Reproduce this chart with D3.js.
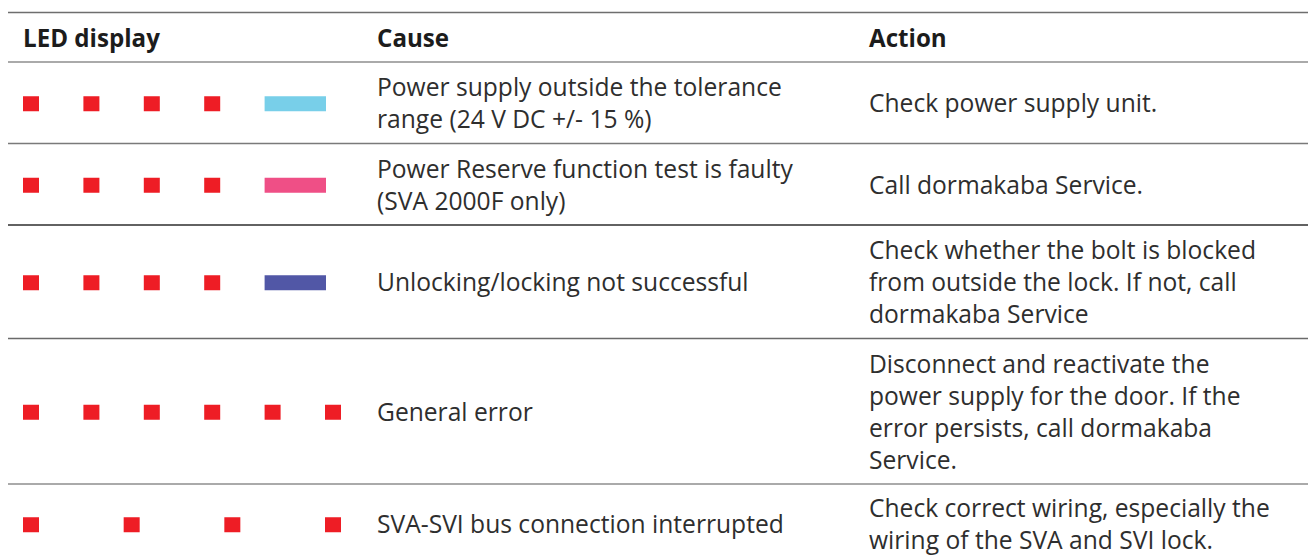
<!DOCTYPE html>
<html><head><meta charset="utf-8">
<script src="https://cdn.jsdelivr.net/npm/d3@7"></script>
<style>html,body{margin:0;padding:0;background:#fff;overflow:hidden}</style>
</head><body>
<svg id="chart" width="1308" height="558"></svg>
<script>
// ---- data ----
const headers = ["LED display", "Cause", "Action"];
// LED slots (0..5) lit red for each row
const ledSlots = [
  [0, 1, 2, 3],
  [0, 1, 2, 3],
  [0, 1, 2, 3],
  [0, 1, 2, 3, 4, 5],
  [0, 5/3, 10/3, 5]
];
// optional coloured bar spanning slots 4-5
const ledBars = ["#78cfe9", "#ef4f86", "#5157a6", null, null];
const causes = [
  ["Power supply outside the tolerance", "range (24 V DC +/- 15 %)"],
  ["Power Reserve function test is faulty", "(SVA 2000F only)"],
  ["Unlocking/locking not successful"],
  ["General error"],
  ["SVA-SVI bus connection interrupted"]
];
const actions = [
  ["Check power supply unit."],
  ["Call dormakaba Service."],
  ["Check whether the bolt is blocked", "from outside the lock. If not, call", "dormakaba Service"],
  ["Disconnect and reactivate the", "power supply for the door. If the", "error persists, call dormakaba", "Service."],
  ["Check correct wiring, especially the", "wiring of the SVA and SVI lock."]
];
const ruleColors = ["#6e6e6e", "#8e8e8e", "#7a7a7a", "#2e2e2e", "#6a6a6a", "#8e8e8e"];

// ---- layout ----
const svg = d3.select("#chart");
const FONT = "'Open Sans', 'Noto Sans', sans-serif";
const lineH = 32, rowPad = 17.5;
const tableTop = 12.5, headerBottom = 62;
const colX = d3.scaleOrdinal().domain(headers).range([23, 377, 869]);
const ledX = d3.scaleLinear().domain([0, 5]).range([23, 325]);
const sqW = 16, sqH = 15;

// fit font size to reference width
const probe = svg.append("text").attr("font-family", FONT).attr("font-size", 100)
  .text("Power supply outside the tolerance");
const fs = 100 * 405 / probe.node().getComputedTextLength();
probe.attr("font-weight", 700).text("LED display");
const hfs = 100 * 137 / probe.node().getComputedTextLength();
probe.remove();

// row boundaries
const rows = causes.map((c, i) => ({i, n: Math.max(c.length, actions[i].length)}));
let y = headerBottom;
rows.forEach(r => { r.top = y; r.h = r.n * lineH + rowPad; y += r.h; r.mid = r.top + r.h / 2; });
const rules = [tableTop, headerBottom].concat(rows.map(r => r.top + r.h));

svg.selectAll("line.rule").data(rules).join("line").attr("class", "rule")
  .attr("x1", 8).attr("x2", 1308)
  .attr("y1", d => d).attr("y2", d => d)
  .attr("stroke", (d, i) => ruleColors[i] || "#888").attr("stroke-width", 1.6);

// header
svg.selectAll("text.hdr").data(headers).join("text").attr("class", "hdr")
  .attr("x", d => colX(d)).attr("y", 47)
  .attr("font-family", FONT).attr("font-weight", 700).attr("font-size", hfs)
  .attr("fill", "#1c1c1c").text(d => d);

// rows
const g = svg.selectAll("g.row").data(rows).join("g").attr("class", "row");

g.each(function(r) {
  const sel = d3.select(this);
  const cy = r.i === 4 ? r.mid - 1 : r.mid;
  sel.selectAll("rect.led").data(ledSlots[r.i]).join("rect").attr("class", "led")
    .attr("x", d => ledX(d)).attr("y", cy - sqH / 2 + 1)
    .attr("width", sqW).attr("height", sqH).attr("fill", "#ee1d25");
  if (ledBars[r.i]) {
    sel.append("rect").attr("x", ledX(4)).attr("y", cy - sqH / 2 + 1)
      .attr("width", ledX(5) + 1 - ledX(4)).attr("height", sqH)
      .attr("fill", ledBars[r.i]);
  }
  [[causes[r.i], colX("Cause")], [actions[r.i], colX("Action")]].forEach(([lines, x]) => {
    const first = cy + 9.5 - (lines.length - 1) * lineH / 2;
    sel.append("text").attr("font-family", FONT).attr("font-size", fs).attr("fill", "#2e2e2e")
      .selectAll("tspan").data(lines).join("tspan")
      .attr("x", x).attr("y", (d, k) => first + k * lineH).text(d => d);
  });
});
</script>
</body></html>
